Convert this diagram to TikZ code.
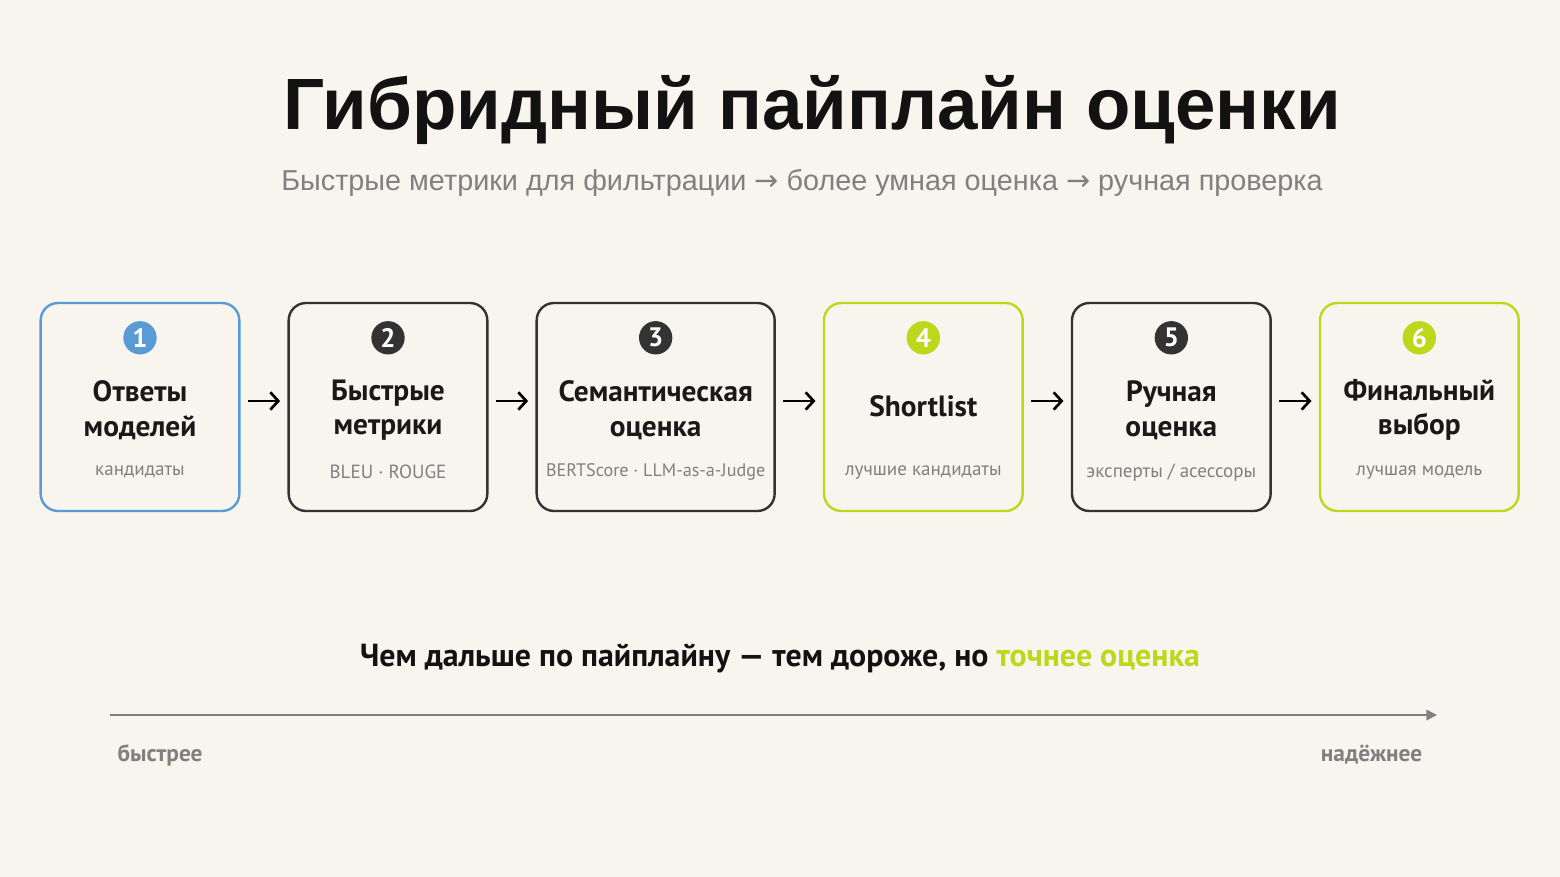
\documentclass[tikz,border=0pt]{standalone}
\usepackage{fontspec}
\setmainfont{Liberation Sans}
\newfontfamily\condfont{PT Sans}
\newfontfamily\arrowfont{DejaVu Sans}
\usetikzlibrary{positioning,calc,arrows.meta}

\definecolor{bgcream}{HTML}{F8F5EE}
\definecolor{stageblue}{HTML}{5B9BD5}
\definecolor{stagelime}{HTML}{BCD81A}
\definecolor{stagedark}{HTML}{333333}
\definecolor{notegray}{HTML}{808080}

\tikzset{
    stage/.style={draw=stagedark, line width=1.8pt, rounded corners=13pt, minimum width=149pt, minimum height=156pt, inner sep=0pt},
    stagenum/.style={circle, fill=stagedark, text=white, minimum size=25pt, inner sep=0pt, font=\condfont\bfseries\fontsize{20}{20}\selectfont},
    stagetitle/.style={align=center, text=black!90, font=\condfont\bfseries\fontsize{22}{26}\selectfont},
    stagenote/.style={text=notegray, font=\condfont\fontsize{14.3}{16}\selectfont},
    flow/.style={-{Straight Barb[length=6pt,width=13pt]}, line width=2pt, shorten <=5.5pt, shorten >=5.5pt},
}

\begin{document}
\begin{tikzpicture}[x=0.75pt, y=-0.75pt, node distance=35.2pt]
            \fill[bgcream] (0,0) rectangle (1560,877);
            \useasboundingbox (0,0) rectangle (1560,877);

            % Kopf
            \node[font=\bfseries\fontsize{54.5}{54.5}\selectfont, text=black!93] (title) at (812,110) {Гибридный пайплайн оценки};
            \node[text=notegray, font=\fontsize{21.6}{21.6}\selectfont] (subtitle) at (802,183) {Быстрые метрики для фильтрации {\arrowfont→} более умная оценка {\arrowfont→} ручная проверка};

            % Stufen
            \node[stage, draw=stageblue] (answers) at (140,407) {};
            \node[stage, right=of answers] (fastmetrics) {};
            \node[stage, right=of fastmetrics, minimum width=178.5pt] (semantic) {};
            \node[stage, draw=stagelime, right=of semantic] (shortlist) {};
            \node[stage, right=of shortlist] (manual) {};
            \node[stage, draw=stagelime, right=of manual] (final) {};

            % 1
            \node[stagenum, fill=stageblue] (num1) at ($(answers.north)+(0,36)$) {1};
            \node[stagetitle] (title1) at ($(answers.center)+(0,3)$) {Ответы\\моделей};
            \node[stagenote] (note1) at ($(answers.south)+(0,-40)$) {кандидаты};

            % 2
            \node[stagenum] (num2) at ($(fastmetrics.north)+(0,36)$) {2};
            \node[stagetitle] (title2) at ($(fastmetrics.center)+(0,3)$) {Быстрые\\метрики};
            \node[stagenote] (note2) at ($(fastmetrics.south)+(0,-40)$) {BLEU · ROUGE};

            % 3
            \node[stagenum] (num3) at ($(semantic.north)+(0,36)$) {3};
            \node[stagetitle] (title3) at ($(semantic.center)+(0,3)$) {Семантическая\\оценка};
            \node[stagenote, font=\condfont\fontsize{13.6}{16}\selectfont] (note3) at ($(semantic.south)+(0,-40)$) {BERTScore · LLM-as-a-Judge};

            % 4
            \node[stagenum, fill=stagelime] (num4) at ($(shortlist.north)+(0,36)$) {4};
            \node[stagetitle] (title4) at ($(shortlist.center)+(0,-1)$) {Shortlist};
            \node[stagenote] (note4) at ($(shortlist.south)+(0,-40)$) {лучшие кандидаты};

            % 5
            \node[stagenum] (num5) at ($(manual.north)+(0,36)$) {5};
            \node[stagetitle] (title5) at ($(manual.center)+(0,3)$) {Ручная\\оценка};
            \node[stagenote] (note5) at ($(manual.south)+(0,-40)$) {эксперты / асессоры};

            % 6
            \node[stagenum, fill=stagelime] (num6) at ($(final.north)+(0,36)$) {6};
            \node[stagetitle] (title6) at ($(final.center)+(0,3)$) {Финальный\\выбор};
            \node[stagenote] (note6) at ($(final.south)+(0,-40)$) {лучшая модель};

            \draw[flow] ([yshift=4.5pt]answers.east) -- ([yshift=4.5pt]fastmetrics.west);
            \draw[flow] ([yshift=4.5pt]fastmetrics.east) -- ([yshift=4.5pt]semantic.west);
            \draw[flow] ([yshift=4.5pt]semantic.east) -- ([yshift=4.5pt]shortlist.west);
            \draw[flow] ([yshift=4.5pt]shortlist.east) -- ([yshift=4.5pt]manual.west);
            \draw[flow] ([yshift=4.5pt]manual.east) -- ([yshift=4.5pt]final.west);

            % Fazit
            \node[font=\condfont\bfseries\fontsize{23.9}{23.9}\selectfont, text=black!93] (summary) at (780,659) {Чем дальше по пайплайну — тем дороже, но \textcolor{stagelime}{точнее оценка}};

            \coordinate (axisstart) at (110,715);
            \coordinate (axisend) at (1437,715);
            \draw[-{Triangle[length=8pt,width=8pt]}, line width=1.2pt, notegray] (axisstart) -- (axisend);
            \node[anchor=west, text=notegray, font=\condfont\bfseries\fontsize{17.5}{17.5}\selectfont] (faster) at (113,755) {быстрее};
            \node[anchor=east, text=notegray, font=\condfont\bfseries\fontsize{17.5}{17.5}\selectfont] (reliable) at (1427,755) {надёжнее};
\end{tikzpicture}
\end{document}
